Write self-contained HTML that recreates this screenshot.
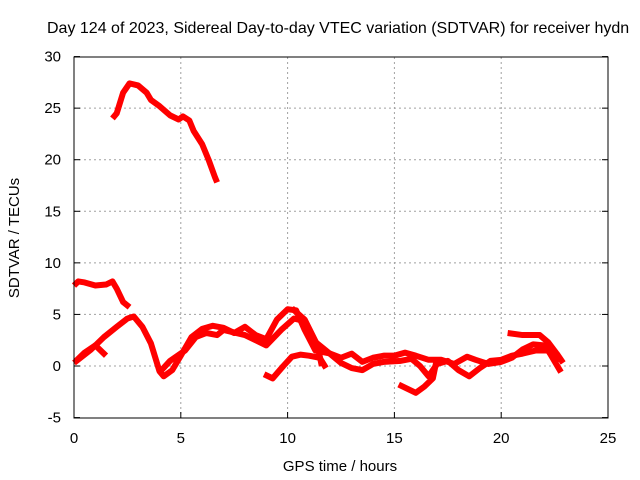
<!DOCTYPE html>
<html><head><meta charset="utf-8"><style>
body{margin:0;background:#fff}
svg{display:block;font-family:"Liberation Sans",sans-serif}
</style></head><body>
<svg id="chart" width="640" height="480">
<text x="47" y="33" font-size="16" text-anchor="start">Day 124 of 2023, Sidereal Day-to-day VTEC variation (SDTVAR) for receiver hydn</text>
<text x="340" y="471" font-size="15" text-anchor="middle">GPS time / hours</text>
<text x="19" y="238" font-size="15" text-anchor="middle" transform="rotate(-90 19 238)">SDTVAR / TECUs</text>
<g id="grid"></g><g id="series"></g>
<rect x="74" y="57" width="534" height="361" fill="none" stroke="#000" stroke-width="1"/>
</svg>
<script>
const xTicks=[0,5,10,15,20,25];
const yTicks=[-5,0,5,10,15,20,25,30];
const s1=[[1.8,24],[2.0,24.5],[2.3,26.5],[2.6,27.4],[3.0,27.2],[3.4,26.5],[3.6,25.8],[4.0,25.2],[4.5,24.3],[4.9,23.9],[5.1,24.2],[5.4,23.8],[5.6,22.8],[6.0,21.5],[6.3,20],[6.6,18.3],[6.7,17.8]];
const s2=[[0,7.8],[0.2,8.2],[0.5,8.1],[1.0,7.8],[1.5,7.9],[1.8,8.2],[2.0,7.5],[2.3,6.2],[2.6,5.7]];
const s3=[[0,0.3],[0.8,1.6],[1.4,2.8],[2.0,3.8],[2.5,4.6],[2.8,4.8],[3.2,3.8],[3.6,2.2],[4.0,-0.5],[4.2,-1.0],[4.6,-0.4],[5.0,1.0],[5.5,2.8],[6.0,3.6],[6.5,3.9],[7.0,3.7],[7.5,3.2],[8.0,3.8],[8.5,3.0],[9.0,2.6],[9.5,4.5],[10.0,5.5],[10.4,5.4],[10.8,3.5],[11.3,1.5],[12,1.2],[12.5,0.8],[13,1.2],[13.5,0.4],[14,0.8],[14.5,1.0],[15,1.0],[15.5,1.3],[16,1.0],[16.6,0.6],[17.2,0.6],[17.8,0.2],[18.4,0.9],[18.8,0.6],[19.4,0.2],[20,0.4],[20.5,0.8],[21,1.6],[21.5,2.1],[22,2.0],[22.3,1.2],[22.7,0.4]];
const s4=[[4.1,-0.4],[4.5,0.5],[5.2,1.5],[5.7,2.8],[6.2,3.2],[6.7,3.0],[7,3.5],[8,3.0],[9,2.0],[9.7,3.5],[10.3,4.6],[10.7,4.4],[11.2,2.5],[11.8,1.5],[12.5,0.3],[13,-0.2],[13.5,-0.4],[14,0.2],[14.5,0.4],[15.3,0.5],[15.8,0.7],[16.2,0.0],[16.6,-1.0],[17,0.2],[17.5,0.5],[18,-0.4],[18.5,-1.0],[19,-0.2],[19.5,0.5],[20.0,0.6],[20.5,1.0],[21,1.2],[21.6,1.5],[22.2,1.5],[22.8,-0.6]];
const s5=[[20.3,3.2],[21,3.0],[21.8,3.0],[22.2,2.3],[22.6,1.2],[22.9,0.3]];
const s6=[[8.9,-0.8],[9.3,-1.2],[9.8,0.0],[10.2,0.9],[10.6,1.1],[11.0,1.0],[11.5,0.8],[11.8,-0.2]];
const s7=[[15.2,-1.8],[15.6,-2.2],[16.0,-2.6],[16.4,-2.0],[16.8,-1.2],[17.0,0.8]];
const s8=[[0.1,0.5],[0.5,1.3],[1.0,2.0],[1.5,1.0]];
const s9=[[10.2,5.6],[10.8,4.5],[11.4,2.0],[11.6,0.0]];
const allSeries=[s1,s2,s3,s4,s5,s6,s7,s8,s9];
const X=h=>74+h*(534/25), Y=v=>366-v*(361/35);
const NS="http://www.w3.org/2000/svg", svg=document.getElementById('chart');
const g=document.getElementById('grid'), sg=document.getElementById('series');
function mk(t,a,p){const e=document.createElementNS(NS,t);for(const k in a)e.setAttribute(k,a[k]);p.appendChild(e);return e;}
xTicks.forEach(t=>{
  if(t>0&&t<25){const l=mk('line',{x1:X(t),x2:X(t),y1:57,y2:418,stroke:'#a0a0a0','stroke-dasharray':'2,3'},g);
  
  }
  const tk=mk('line',{x1:X(t),x2:X(t),y1:418,y2:412,stroke:'#000'},g);
  
  
  const tx=mk('text',{x:X(t),y:443,'font-size':15,'text-anchor':'middle'},g);tx.textContent=t;
  
  
});
yTicks.forEach(t=>{
  if(t>-5&&t<30){const l=mk('line',{x1:74,x2:608,y1:Y(t),y2:Y(t),stroke:'#a0a0a0','stroke-dasharray':'2,3'},g);
  
  }
  const tk=mk('line',{x1:74,x2:80,y1:Y(t),y2:Y(t),stroke:'#000'},g);
  
  
  const tk2=mk('line',{x1:602,x2:608,y1:Y(t),y2:Y(t),stroke:'#000'},g);
  
  
  const tx=mk('text',{x:61,y:Y(t)+5,'font-size':15,'text-anchor':'end'},g);tx.textContent=t;
  
  
});
allSeries.forEach(s=>{
  const p=mk('polyline',{points:s.map(d=>X(d[0])+','+Y(d[1])).join(' '),fill:'none',stroke:'#ff0000','stroke-width':6,'stroke-linejoin':'round'},sg);
  
  
});
</script>
</body></html>
